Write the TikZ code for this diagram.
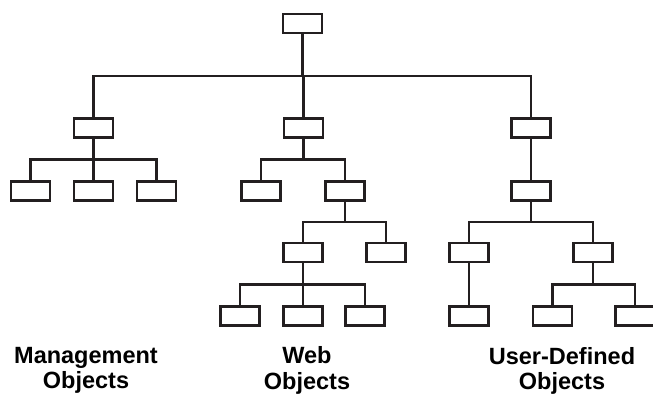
\documentclass[tikz,border=0pt]{standalone}
\usepackage{fontspec}
\newfontfamily\labelfont{Liberation Sans}
\usetikzlibrary{calc}
\definecolor{linegray}{RGB}{35,31,32}
\begin{document}
\begin{tikzpicture}[x=1pt, y=-1pt,
  obj/.style={draw=linegray, line width=2.5pt, minimum width=39pt, minimum height=19pt, inner sep=0pt},
  link/.style={draw=linegray, line width=2.5pt,
    to path={(\tikztostart.south) |- ($(\tikztostart.south)!.5!(\tikztotarget.north)$) -| (\tikztotarget.north)}},
  group/.style={font=\labelfont\bfseries\fontsize{23.5}{25.5}\selectfont, align=center, anchor=north, inner sep=0pt}]
\useasboundingbox (0,0) rectangle (653,394);
\node[obj] (obj0) at (302.5,23.5){};
\node[obj] (obj1) at (93.5,128){};
\node[obj] (obj2) at (303.5,128){};
\node[obj] (obj3) at (531,128){};
\draw[link](obj0) to (obj1);
\draw[link](obj0) to (obj2);
\draw[link](obj0) to (obj3);
% management
\node[obj] (obj4) at (30.5,191){};
\node[obj] (obj5) at (93.5,191){};
\node[obj] (obj6) at (156.5,191){};
\draw[link](obj1) to (obj4);
\draw[link](obj1) to (obj5);
\draw[link](obj1) to (obj6);
% web
\node[obj] (obj7) at (261,191){};
\node[obj] (obj8) at (345,191){};
\draw[link](obj2) to (obj7);
\draw[link](obj2) to (obj8);
\node[obj] (obj9) at (303,252.5){};
\node[obj] (obj10) at (386,252.5){};
\draw[link](obj8) to (obj9);
\draw[link](obj8) to (obj10);
\node[obj] (obj11) at (240,316){};
\node[obj] (obj12) at (303,316){};
\node[obj] (obj13) at (365,316){};
\draw[link](obj9) to (obj11);
\draw[link](obj9) to (obj12);
\draw[link](obj9) to (obj13);
% user-defined
\node[obj] (obj14) at (531,191){};
\draw[link](obj3) to (obj14);
\node[obj] (obj15) at (469,252.5){};
\node[obj] (obj16) at (593,252.5){};
\draw[link](obj14) to (obj15);
\draw[link](obj14) to (obj16);
\node[obj] (obj17) at (469,316){};
\draw[link](obj15) to (obj17);
\node[obj] (obj18) at (552.5,316){};
\node[obj] (obj19) at (635,316){};
\draw[link](obj16) to (obj18);
\draw[link](obj16) to (obj19);
\node[group] (mgmt) at (86,347){Management\\Objects};
\node[group] (web) at (307,346.5){Web\\Objects};
\node[group] (user) at (562,347){User-Defined\\Objects};
\end{tikzpicture}
\end{document}
